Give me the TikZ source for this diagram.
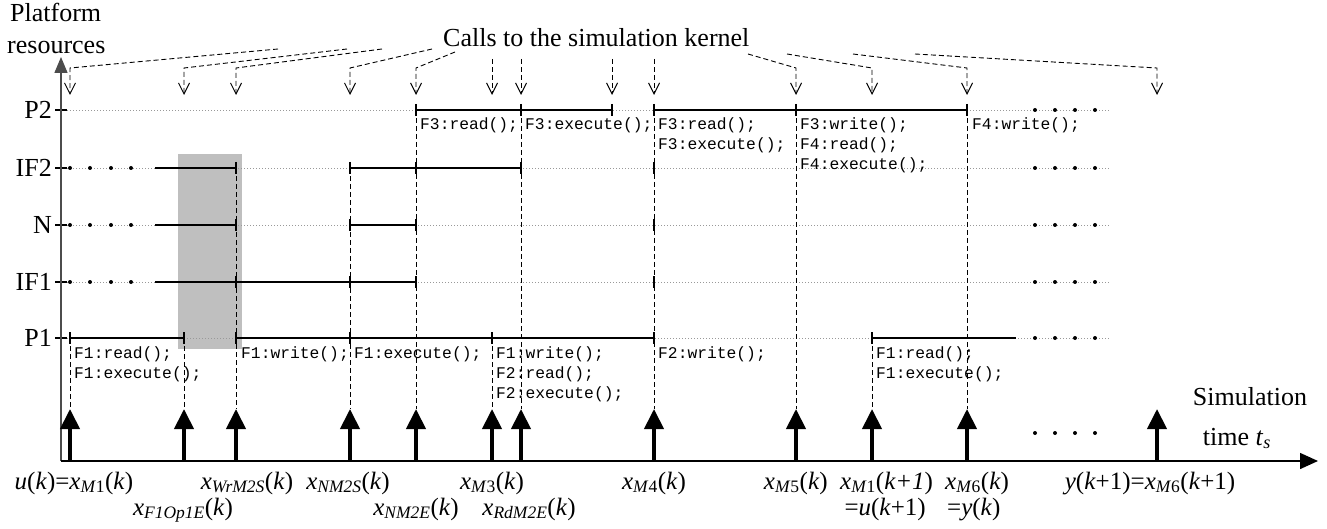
\documentclass[tikz,border=0pt]{standalone}
\usepackage{fontspec}
\setmainfont{Liberation Serif}
\setmonofont{Liberation Mono}
\usetikzlibrary{arrows.meta}
\newcommand{\xsub}[1]{\textit{x}\textsubscript{#1}}
\newcommand{\kk}{(\textit{k})}
\tikzset{
    big/.style={font=\fontsize{26}{29}\selectfont, inner sep=0pt},
    inst/.style={font=\fontsize{25}{28}\selectfont, inner sep=0pt, anchor=base},
    code/.style={font=\ttfamily\fontsize{16.3}{20}\selectfont, anchor=base west, inner sep=0pt},
    gridline/.style={gray!80, line width=0.8pt, dash pattern=on 1pt off 2pt},
    busy/.style={line width=2.6pt},
    tick/.style={line width=2pt},
    evline/.style={line width=0.9pt, dash pattern=on 5pt off 3pt},
    call/.style={evline, -{Straight Barb[length=11pt,width=11pt,line width=1pt]}},
    pulse/.style={line width=4pt, -{Triangle[length=20pt,width=19pt]}}
}

\begin{document}
\begin{tikzpicture}[x=1pt,y=-1pt]
    \useasboundingbox (0,0) rectangle (1327,529);

    % Highlighted interval
    \fill[gray!50] (178,154) rectangle (242,349);

    % Helper rows
    \coordinate (O) at (61,461);
    \coordinate (top) at (0,59);
    \coordinate (kern) at (0,68);
    \coordinate (tipc) at (0,95);

    % Event instants on the time axis
    \foreach \n/\x in {1/70,2/184,3/236,4/350,5/416,6/492,7/521,8/612,9/654,10/796,11/872,12/967,13/1157}
        \coordinate (e\n) at (\x,461);

    % Resource rows
    \foreach \r/\y in {P2/110,IF2/168,N/225,IF1/282,P1/338}{
        \node[big, anchor=east] (\r) at (52,\y) {\r};
        \draw[gridline] (61,\y) -- (1110,\y);
        \draw[line width=1.5pt] (55,\y) -- (67,\y);
        \foreach \d in {1035,1055,1075,1095}
            \fill (\d,\y) circle (2pt);
    }
    \foreach \r in {IF2,N,IF1}
        \foreach \d in {70,90,111,131}
            \fill (\d,0 |- \r) circle (2pt);

    % Axes
    \draw[gray!60!black, line width=1.5pt, -{Triangle[length=16pt,width=13pt]}] (O) -- (61,57);
    \draw[line width=1.5pt, -{Triangle[length=18pt,width=16pt]}] (O) -- (1318,461);

    % Busy intervals
    \draw[busy] (e5 |- P2) -- (e8 |- P2);
    \draw[busy] (e9 |- P2) -- (e12 |- P2);
    \draw[busy] (155,168) -- (e3 |- IF2);
    \draw[busy] (e4 |- IF2) -- (e7 |- IF2);
    \draw[busy] (155,225) -- (e3 |- N);
    \draw[busy] (e4 |- N) -- (e5 |- N);
    \draw[busy] (155,282) -- (e5 |- IF1);
    \draw[busy] (e1 |- P1) -- (e2 |- P1);
    \draw[busy] (e3 |- P1) -- (e9 |- P1);
    \draw[busy] (e11 |- P1) -- (1016,338);
    \foreach \e/\r in {e5/P2,e7/P2,e8/P2,e9/P2,e10/P2,e12/P2,
                       e3/IF2,e4/IF2,e5/IF2,e7/IF2,e9/IF2,
                       e3/N,e4/N,e5/N,e9/N,
                       e3/IF1,e4/IF1,e5/IF1,e9/IF1,
                       e1/P1,e2/P1,e3/P1,e4/P1,e6/P1,e9/P1,e11/P1}
        \draw[tick] (\e |- \r) ++(0,-6) -- ++(0,12);

    % Event lines down to the time axis
    \foreach \e/\r in {e1/P1,e2/P1,e6/P1,e11/P1,e3/IF2,e4/IF2,e5/P2,e7/P2,e9/P2,e10/P2,e12/P2}
        \draw[evline] (\e |- \r) -- ([yshift=52pt]\e);
    \foreach \e in {e1,e2,e3,e4,e5,e6,e7,e9,e10,e11,e12,e13}
        \draw[pulse] (\e) -- ([yshift=52pt]\e);

    % Calls to the simulation kernel
    \node[big, anchor=base west] (calls) at (443,47) {Calls to the simulation kernel};
    \foreach \e/\s in {e1/{278,49},e2/{347,49},e3/{382,49},e4/{432,49},e5/{455,52},
                       e10/{748,54},e11/{787,54},e12/{853,54},e13/{915,54}}
        \draw[call] (\s) -- (\e |- kern) -- (\e |- tipc);
    \foreach \e in {e6,e7,e8,e9}
        \draw[call] (\e |- top) -- (\e |- tipc);

    % Code executed on P2
    \node[code] (c1) at (420,130) {F3:read();};
    \node[code] (c2) at (525,130) {F3:execute();};
    \node[code] (c3) at (658,130) {F3:read();};
    \node[code] (c4) at (658,150) {F3:execute();};
    \node[code] (c5) at (800,130) {F3:write();};
    \node[code] (c6) at (800,150) {F4:read();};
    \node[code] (c7) at (800,170) {F4:execute();};
    \node[code] (c8) at (972,130) {F4:write();};

    % Code executed on P1
    \node[code] (d1) at (74,358) {F1:read();};
    \node[code] (d2) at (74,378) {F1:execute();};
    \node[code] (d3) at (241,358) {F1:write();};
    \node[code] (d4) at (354,358) {F1:execute();};
    \node[code] (d5) at (496,358) {F1:write();};
    \node[code] (d6) at (496,378) {F2:read();};
    \node[code] (d7) at (496,398) {F2:execute();};
    \node[code] (d8) at (658,358) {F2:write();};
    \node[code] (d9) at (876,358) {F1:read();};
    \node[code] (d10) at (876,378) {F1:execute();};

    % Axis titles
    \node[big, anchor=base west] (plat) at (10,22) {Platform};
    \node[big, anchor=base west] (res) at (7,54) {resources};
    \node[big, anchor=base] (sim) at (1250,405) {Simulation};
    \node[big, anchor=base] (stime) at (1237,445) {time \textit{t}\textsubscript{\textit{s}}};
    \foreach \d in {1035,1055,1075,1095}
        \fill (\d,433) circle (2pt);

    % Instants
    \node[inst] (l1) at (74,489) {\textit{u}\kk=\xsub{\textit{M}1}\kk};
    \node[inst] (l2) at (183,515) {\xsub{\textit{F1Op1E}}\kk};
    \node[inst] (l3) at (247,489) {\xsub{\textit{WrM2S}}\kk};
    \node[inst] (l4) at (348,489) {\xsub{\textit{NM2S}}\kk};
    \node[inst] (l5) at (416,515) {\xsub{\textit{NM2E}}\kk};
    \node[inst] (l6) at (492,489) {\xsub{\textit{M}3}\kk};
    \node[inst] (l7) at (529,515) {\xsub{\textit{RdM2E}}\kk};
    \node[inst] (l8) at (654,489) {\xsub{\textit{M}4}\kk};
    \node[inst, anchor=base east] (l9) at (828,489) {\xsub{\textit{M}5}\kk};
    \node[inst, anchor=base west] (l10) at (840,489) {\xsub{\textit{M}1}(\textit{k+1})};
    \node[inst, anchor=base east] (l11) at (926,515) {=\textit{u}(\textit{k}+1)};
    \node[inst, anchor=base west] (l12) at (945,489) {\xsub{\textit{M}6}\kk};
    \node[inst, anchor=base west] (l13) at (947,515) {=\textit{y}\kk};
    \node[inst] (l14) at (1150,489) {\textit{y}(\textit{k}+1)=\xsub{\textit{M}6}(\textit{k}+1)};
\end{tikzpicture}
\end{document}
